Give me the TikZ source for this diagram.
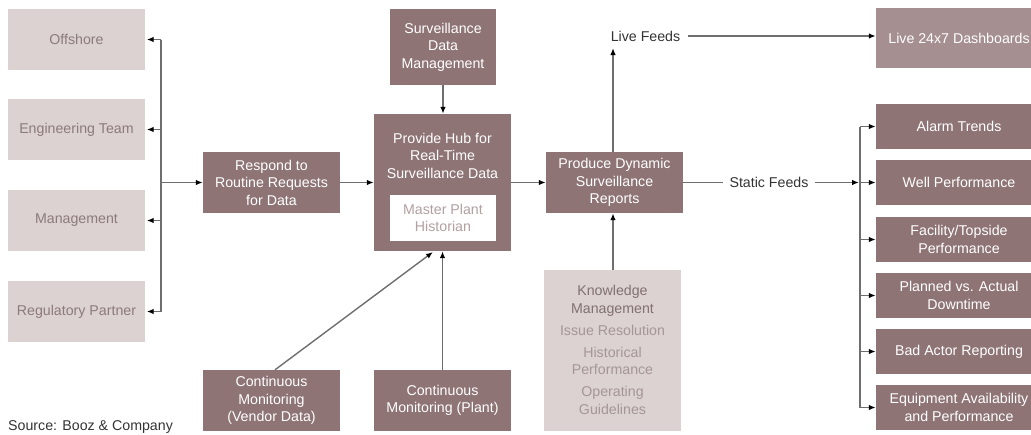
\documentclass[tikz,border=0pt]{standalone}
\usepackage{fontspec}
\setmainfont{Liberation Sans}
\usetikzlibrary{arrows.meta}
\definecolor{darkbox}{RGB}{143,116,118}
\definecolor{lightbox}{RGB}{220,210,209}
\definecolor{livebox}{RGB}{165,143,144}
\definecolor{lighttext}{RGB}{140,122,124}
\definecolor{kmtextdark}{RGB}{130,112,114}
\definecolor{kmtextlight}{RGB}{165,150,152}
\definecolor{mphtext}{RGB}{178,160,161}
\definecolor{linegrey}{RGB}{110,110,110}
\definecolor{labeltext}{RGB}{51,51,51}
\tikzset{
  box/.style={inner sep=0pt, align=center, font=\fontsize{14.2}{17.5}\selectfont},
  darkbox/.style={box, fill=darkbox, text=white},
  lightbox/.style={box, fill=lightbox, text=lighttext},
  livebox/.style={box, fill=livebox, text=white},
  sidebox/.style={lightbox, minimum width=137pt, minimum height=61pt},
  midbox/.style={darkbox, minimum width=137pt, minimum height=61pt},
  rightbox/.style={darkbox, minimum width=166pt, minimum height=45pt},
  label/.style={inner sep=2pt, font=\fontsize{14.2}{17.5}\selectfont, text=labeltext},
  conn/.style={draw=linegrey, line width=1.4pt},
  arr/.style={conn, -{Latex[length=7pt,width=5.5pt,color=black]}},
}
\begin{document}
\begin{tikzpicture}[x=1pt,y=-1pt]
\useasboundingbox (0,0) rectangle (1031,434);
\begin{scope}
\clip (0,0) rectangle (1031,434);
% left boxes
\node[sidebox] (offshore) at (76.5,39.5) {Offshore};
\node[sidebox] (eng) at (76.5,129.5) {Engineering Team};
\node[sidebox] (mgmt) at (76.5,220.5) {Management};
\node[sidebox] (reg) at (76.5,311.5) {Regulatory Partner};
% middle
\node[midbox] (respond) at (271.5,182.5) {Respond to\\Routine Requests\\for Data};
\node[midbox] (vendor) at (271.5,400.5) {Continuous\\Monitoring\\(Vendor Data)};
\node[darkbox, minimum width=106pt, minimum height=76pt] (sdm) at (443,47) {Surveillance\\Data\\Management};
\node[darkbox, minimum width=137pt, minimum height=137pt] (hub) at (442.5,182.5) {};
\node[box, text=white] (hubtext) at (442.5,155.5) {Provide Hub for\\Real-Time\\Surveillance Data};
\node[box, fill=white, text=mphtext, minimum width=106pt, minimum height=46pt] (mph) at (443,218) {Master Plant\\Historian};
\node[midbox] (plant) at (442.5,400.5) {Continuous\\Monitoring (Plant)};
\node[midbox] (produce) at (614.5,182.5) {Produce Dynamic\\Surveillance\\Reports};
\node[lightbox, minimum width=137pt, minimum height=161pt] (km) at (612.5,350.5) {};
\node[box, text=kmtextlight] (kmtext) at (612.5,350) {\textcolor{kmtextdark}{Knowledge}\\\textcolor{kmtextdark}{Management}\\[4.5pt]Issue Resolution\\[4.5pt]Historical\\Performance\\[4.5pt]Operating\\Guidelines};
% right
\node[livebox, minimum width=166pt, minimum height=60pt] (live) at (959,38) {Live 24x7 Dashboards};
\node[rightbox] (alarm) at (959,126.5) {Alarm Trends};
\node[rightbox] (well) at (959,182.5) {Well Performance};
\node[rightbox] (facility) at (959,239.5) {Facility/Topside\\Performance};
\node[rightbox] (planned) at (959,295.5) {Planned vs. Actual\\Downtime};
\node[rightbox] (bad) at (959,351.5) {Bad Actor Reporting};
\node[rightbox] (equip) at (959,407.5) {Equipment Availability\\and Performance};
% labels
\node[label] (livefeeds) at (645.5,36) {Live Feeds};
\node[label, inner sep=6pt] (static) at (769,182.5) {Static Feeds};
\node[label, anchor=west, inner sep=0pt] (source) at (8,427) {Source: Booz \& Company};
\end{scope}
% coordinates
\coordinate (lbus) at (161,182.5);
\coordinate (rbus) at (860,182.5);
\coordinate (lftip) at (613,48);
% left bus
\draw[conn] (161,39.5) -- (161,311.5);
\draw[arr] (lbus) -- (respond.west);
\foreach \n in {offshore,eng,mgmt,reg}{
  \draw[arr] (lbus |- \n.east) -- ([xshift=1.5pt]\n.east);
}
% center flow
\draw[arr] (respond.east) -- (hub.west);
\draw[arr] (sdm.south) -- (hub.north -| sdm.south);
\draw[arr] (plant.north) -- (hub.south);
\draw[arr] ([xshift=3.5pt]vendor.north) -- (433,252);
\draw[arr] (hub.east) -- (produce.east -| produce.west);
\draw[arr] (km.north -| lftip) -- (produce.south -| lftip);
% live feeds
\draw[arr] (produce.north -| lftip) -- (lftip);
\draw[arr] ([xshift=6pt]livefeeds.east) -- (live.west |- livefeeds.east);
% static feeds
\draw[conn] (produce.east) -- (static.west);
\draw[arr] (static.east) -- ([xshift=-1pt]rbus);
\draw[conn] (860,126.5) -- (860,407.5);
\foreach \n in {alarm,well,facility,planned,bad,equip}{
  \draw[arr] (rbus |- \n.west) -- (\n.west);
}
\end{tikzpicture}
\end{document}
